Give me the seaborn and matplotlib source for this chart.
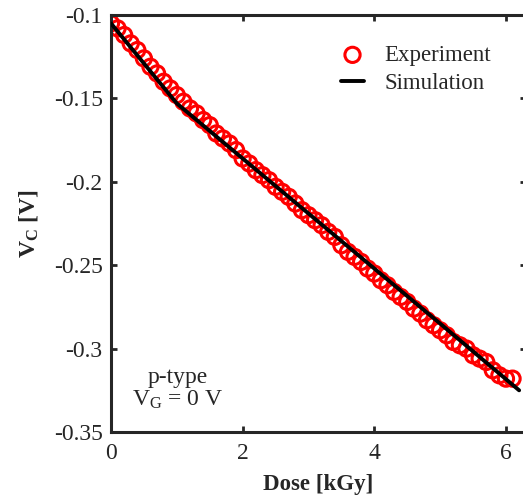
#!/usr/bin/env python3
"""
V_C vs dose for a p-type device, experiment against simulation.
"""

import matplotlib
matplotlib.use("Agg")
import pandas as pd
import seaborn as sns
import matplotlib.pyplot as plt

# Experiment (0.1 kGy steps)
exp_dose = [0.0, 0.1, 0.2, 0.3, 0.4, 0.5, 0.6, 0.7, 0.8, 0.9,
            1.0, 1.1, 1.2, 1.3, 1.4, 1.5, 1.6, 1.7, 1.8, 1.9,
            2.0, 2.1, 2.2, 2.3, 2.4, 2.5, 2.6, 2.7, 2.8, 2.9,
            3.0, 3.1, 3.2, 3.3, 3.4, 3.5, 3.6, 3.7, 3.8, 3.9,
            4.0, 4.1, 4.2, 4.3, 4.4, 4.5, 4.6, 4.7, 4.8, 4.9,
            5.0, 5.1, 5.2, 5.3, 5.4, 5.5, 5.6, 5.7, 5.8, 5.9,
            6.0, 6.1]
exp_vc = [-0.105, -0.108, -0.112, -0.117, -0.121, -0.126, -0.131, -0.135, -0.140, -0.144,
          -0.148, -0.152, -0.156, -0.159, -0.163, -0.166, -0.171, -0.174, -0.177, -0.181,
          -0.186, -0.189, -0.193, -0.196, -0.199, -0.203, -0.206, -0.209, -0.213, -0.217,
          -0.220, -0.223, -0.226, -0.230, -0.233, -0.238, -0.242, -0.245, -0.248, -0.252,
          -0.255, -0.259, -0.262, -0.266, -0.269, -0.272, -0.276, -0.279, -0.283, -0.286,
          -0.289, -0.292, -0.296, -0.298, -0.300, -0.304, -0.306, -0.308, -0.313, -0.316,
          -0.318, -0.318]

# Simulation
sim_dose = [0.0, 0.5, 1.0, 2.0, 3.0, 4.0, 5.0, 6.2]
sim_vc = [-0.105, -0.129, -0.153, -0.186, -0.219, -0.252, -0.285, -0.325]

x_ticks = [0, 2, 4, 6]
y_ticks = [-0.35, -0.3, -0.25, -0.2, -0.15, -0.1]
y_tick_labels = ["-0.35", "-0.3", "-0.25", "-0.2", "-0.15", "-0.1"]

sns.set_style("ticks")
plt.rcParams['font.family'] = ['Liberation Serif', 'DejaVu Serif']
plt.rcParams['mathtext.fontset'] = 'custom'
plt.rcParams['mathtext.rm'] = 'Liberation Serif'
plt.rcParams['mathtext.it'] = 'Liberation Serif'
plt.rcParams['mathtext.bf'] = 'Liberation Serif:bold'

df_exp = pd.DataFrame({'dose': exp_dose, 'vc': exp_vc})
df_sim = pd.DataFrame({'dose': sim_dose, 'vc': sim_vc})

fig = plt.figure(figsize=(5.23, 4.96), dpi=100)
ax = fig.add_axes([0.2122, 0.129, 0.793, 0.8407])

sns.scatterplot(data=df_exp, x='dose', y='vc', ax=ax, marker='o', s=120,
                facecolor='none', edgecolor='#ff0000', linewidth=2.2,
                label='Experiment', zorder=2)
sns.lineplot(data=df_sim, x='dose', y='vc', ax=ax, color='black', linewidth=2.8,
             label='Simulation', zorder=3)

ax.set_xlim(0, 6.3)
ax.set_ylim(-0.35, -0.1)
ax.set_xticks(x_ticks)
ax.set_yticks(y_ticks)
ax.set_yticklabels(y_tick_labels)
ax.tick_params(direction='in', length=4, width=2, labelsize=17,
               top=True, right=True)
ax.tick_params(axis='x', pad=8)
ax.tick_params(axis='y', pad=6)
for side in ['left', 'bottom', 'top', 'right']:
    ax.spines[side].set_linewidth(2.2)

ax.set_xlabel('Dose [kGy]', fontsize=16.5, fontweight='bold', labelpad=7)
ax.set_ylabel(r'$\mathbf{V_C}$ [V]', fontsize=17, fontweight='bold')
ax.yaxis.set_label_coords(-0.171, 0.5)

ax.text(0.16, 0.13, 'p-type', transform=ax.transAxes, ha='center', va='center',
        fontsize=17)
ax.text(0.16, 0.076, r'V$_\mathrm{G}$ = 0 V', transform=ax.transAxes, ha='center',
        va='center', fontsize=17)

ax.legend(loc='upper left', bbox_to_anchor=(0.505, 0.978), frameon=False,
          fontsize=16.5, handlelength=1.0, handletextpad=0.9, labelspacing=0.3)

fig.savefig('out.png', dpi=100)
